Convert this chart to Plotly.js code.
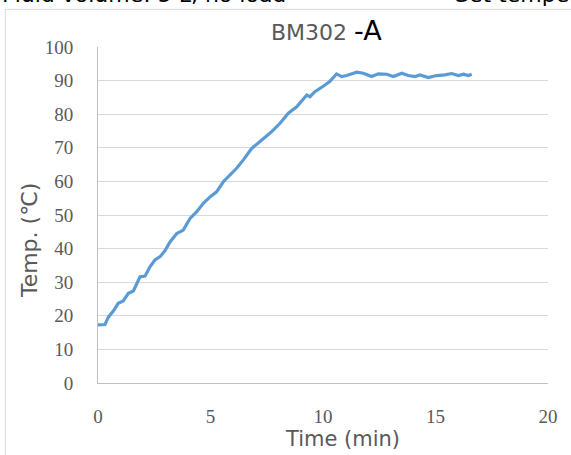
<!DOCTYPE html>
<html>
<head>
<meta charset="utf-8">
<script src="https://cdn.plot.ly/plotly-3.0.1.min.js"></script>
<style>html,body{margin:0;padding:0;background:#fff;}#chart{width:571px;height:455px;}</style>
</head>
<body>
<div id="chart"></div>
<script>
// Time (min)
const timeMin = [0, 0.15, 0.31, 0.46, 0.68, 0.9, 1.12, 1.35, 1.57, 1.87, 2.09, 2.31, 2.53, 2.76, 2.98, 3.2, 3.42, 3.5, 3.79, 4.09, 4.39, 4.68, 4.98, 5.27, 5.57, 5.87, 6.16, 6.46, 6.61, 6.83, 7.28, 7.72, 8.09, 8.46, 8.83, 9.28, 9.42, 9.64, 10.09, 10.31, 10.6, 10.83, 11.05, 11.5, 11.79, 12.16, 12.46, 12.83, 13.13, 13.5, 13.79, 14.09, 14.31, 14.68, 15.05, 15.42, 15.72, 16.02, 16.24, 16.46, 16.61];
// Temperature (°C)
const tempC = [17.3, 17.3, 17.4, 19.6, 21.4, 23.7, 24.4, 26.7, 27.4, 31.6, 31.8, 34.6, 36.6, 37.6, 39.4, 42.0, 44.0, 44.5, 45.5, 49.0, 51.0, 53.5, 55.4, 56.9, 59.9, 61.9, 63.9, 66.4, 67.9, 69.8, 72.3, 74.8, 77.3, 80.3, 82.2, 85.7, 85.2, 86.7, 88.7, 89.8, 92.0, 91.2, 91.5, 92.5, 92.2, 91.2, 92.0, 91.9, 91.2, 92.2, 91.5, 91.2, 91.7, 90.9, 91.5, 91.7, 92.1, 91.5, 91.9, 91.5, 91.9];

const chartTitle = "BM302";
const chartSuffix = "-A";
const xTitle = "Time (min)";
const yTitle = "Temp. (℃)";
const topLeftText = "Fluid volume: 5 L, no load";
const topRightText = "Set temperature: 90 ℃";

const trace = {
  x: timeMin, y: tempC, type: 'scatter', mode: 'lines',
  line: {color: '#5B9BD5', width: 3.2}, hoverinfo: 'skip'
};

const tickFont = {family: '"Liberation Serif", "DejaVu Serif", serif', size: 19, color: '#595959'};
const layout = {
  width: 571, height: 455,
  margin: {l: 98, r: 23, t: 47, b: 72, pad: 0},
  paper_bgcolor: '#ffffff', plot_bgcolor: '#ffffff',
  showlegend: false,
  xaxis: {
    range: [0, 20], dtick: 5, tick0: 0, showgrid: false, zeroline: false,
    showline: true, linecolor: '#BFBFBF', linewidth: 1, ticks: '',
    tickfont: tickFont, ticklabelstandoff: 16, fixedrange: true
  },
  yaxis: {
    range: [0, 100], dtick: 10, tick0: 0, showgrid: true, gridcolor: '#D9D9D9', gridwidth: 1,
    zeroline: false, showline: true, linecolor: '#BFBFBF', linewidth: 1, ticks: '',
    tickfont: tickFont, ticklabelstandoff: 20, fixedrange: true
  },
  shapes: [
    {type: 'rect', xref: 'paper', yref: 'paper', x0: -0.206, x1: 1.3, y0: -0.5, y1: 1.112,
     line: {color: '#D9D9D9', width: 1}, fillcolor: 'rgba(0,0,0,0)', layer: 'below'}
  ],
  annotations: [
    {xref: 'paper', yref: 'paper', x: 0.507, y: 1.05, xanchor: 'center', yanchor: 'middle', showarrow: false,
     text: chartTitle + " <span style='color:#000000;font-size:27px'>" + chartSuffix + "</span>",
     font: {family: 'DejaVu Sans', size: 22, color: '#595959'}},
    {xref: 'paper', yref: 'paper', x: -0.151, y: 0.4256, xanchor: 'center', yanchor: 'middle', showarrow: false,
     textangle: -90, text: yTitle, font: {family: 'DejaVu Sans', size: 22, color: '#595959'}},
    {xref: 'paper', yref: 'paper', x: 0.544, y: -0.168, xanchor: 'center', yanchor: 'middle', showarrow: false,
     text: xTitle, font: {family: 'DejaVu Sans', size: 21, color: '#595959'}},
    {xref: 'paper', yref: 'paper', x: -0.2178, y: 1.113, xanchor: 'left', yanchor: 'bottom', showarrow: false,
     text: topLeftText, font: {family: 'DejaVu Sans', size: 22, color: '#000000'}},
    {xref: 'paper', yref: 'paper', x: 0.789, y: 1.113, xanchor: 'left', yanchor: 'bottom', showarrow: false,
     text: topRightText, font: {family: 'DejaVu Sans', size: 22, color: '#000000'}}
  ]
};

Plotly.newPlot('chart', [trace], layout, {displayModeBar: false, staticPlot: true});
</script>
</body>
</html>
